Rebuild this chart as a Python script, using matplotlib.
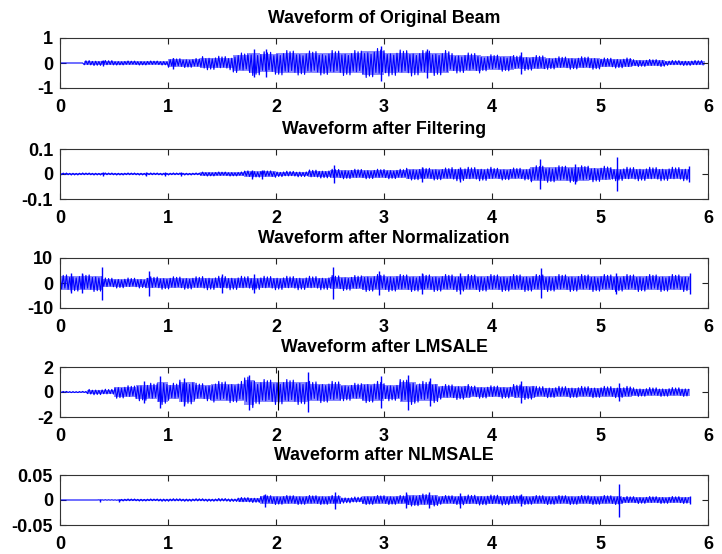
import numpy as np
import matplotlib
matplotlib.use('Agg')
import matplotlib.pyplot as plt

plt.rcParams['font.family'] = ['Liberation Sans', 'DejaVu Sans']
plt.rcParams['axes.unicode_minus'] = False

# Envelope of each waveform: segment edges (s) and peak amplitude per segment
titles = ['Waveform of Original Beam', 'Waveform after Filtering',
          'Waveform after Normalization', 'Waveform after LMSALE',
          'Waveform after NLMSALE']

edges1 = [0, 0.22, 0.5, 1.0, 1.3, 1.6, 1.75, 1.85, 2.0, 2.2, 2.5, 2.8, 3.0, 3.3, 3.6,
          3.9, 4.2, 4.5, 5.0, 5.3, 5.6, 5.97]
amps1 = [0, 0.1, 0.08, 0.18, 0.27, 0.4, 0.5, 0.45, 0.5, 0.48, 0.5, 0.58, 0.52, 0.5,
         0.4, 0.33, 0.3, 0.25, 0.2, 0.14, 0.1]
spike_t1 = [0.4, 1.05, 1.8, 1.91, 2.97, 3.4, 4.27]
spike_a1 = [0.12, 0.22, 0.55, 0.55, 0.7, 0.58, 0.43]

edges2 = [0, 1.3, 1.7, 2.0, 2.3, 2.5, 2.8, 3.2, 3.6, 4.0, 4.35, 4.6, 4.9, 5.1, 5.83]
amps2 = [0.004, 0.008, 0.013, 0.011, 0.016, 0.019, 0.019, 0.024, 0.027, 0.024, 0.033,
         0.033, 0.031, 0.027]
spike_t2 = [0.4, 0.8, 0.97, 1.12, 1.78, 1.87, 2.54, 3.35, 3.7, 4.44, 4.77, 5.16, 5.82]
spike_a2 = [0.008, 0.008, 0.008, 0.008, 0.018, 0.018, 0.037, 0.03, 0.03, 0.06, 0.04,
            0.068, 0.033]

edges3 = [0, 0.4, 0.8, 1.3, 2.0, 2.5, 2.8, 4.5, 5.83]
amps3 = [3.4, 2.0, 2.5, 2.7, 2.7, 3.0, 3.4, 3.4]
spike_t3 = [0.1, 0.2, 0.39, 0.82, 1.5, 1.8, 2.53, 2.95, 3.35, 3.7, 4.45, 5.15, 5.83]
spike_a3 = [4, 4, 6.6, 5, 3.8, 3.8, 6.3, 4.8, 4.2, 4.2, 6.0, 4.2, 4.2]

edges4 = [0, 0.25, 0.5, 0.7, 0.9, 1.0, 1.1, 1.25, 1.4, 1.7, 1.8, 2.0, 2.3, 2.6, 2.8,
          3.0, 3.15, 3.3, 3.5, 3.8, 4.2, 4.4, 5.0, 5.3, 5.83]
amps4 = [0.05, 0.22, 0.5, 0.7, 1.0, 0.7, 1.0, 0.7, 0.85, 1.25, 1.0, 1.0, 0.85, 0.7,
         0.85, 0.7, 1.0, 0.85, 0.6, 0.5, 0.6, 0.45, 0.45, 0.35]
spike_t4 = [0.78, 0.93, 1.15, 1.75, 2.3, 2.97, 3.22, 3.43, 4.27, 5.18]
spike_a4 = [0.9, 1.25, 1.15, 1.4, 1.6, 1.25, 1.4, 1.1, 0.85, 0.75]
black_t4 = 2.02
black_lo4, black_hi4 = -1.4, 1.75

edges5 = [0, 0.35, 0.55, 0.9, 1.45, 1.65, 1.85, 2.0, 2.5, 2.6, 2.8, 3.2, 3.5, 3.7,
          4.2, 5.1, 5.2, 5.83]
amps5 = [0, 0.0005, 0.002, 0.0025, 0.003, 0.005, 0.009, 0.009, 0.009, 0.006, 0.009,
         0.012, 0.009, 0.01, 0.009, 0.009, 0.007]
spike_t5 = [0.37, 0.55, 1.9, 2.55, 3.2, 3.42, 3.7, 4.27, 5.18, 5.83]
spike_a5 = [0.003, 0.003, 0.013, 0.017, 0.016, 0.016, 0.015, 0.012, 0.033, 0.008]

ylims = [1, 0.1, 10, 2, 0.05]
ytick_labels = [['-1', '0', '1'], ['-0.1', '0', '0.1'], ['-10', '0', '10'],
                ['-2', '0', '2'], ['-0.05', '0', '0.05']]

panels = [(edges1, amps1, spike_t1, spike_a1), (edges2, amps2, spike_t2, spike_a2),
          (edges3, amps3, spike_t3, spike_a3), (edges4, amps4, spike_t4, spike_a4),
          (edges5, amps5, spike_t5, spike_a5)]

# relative stroke heights inside a segment, only to give the trace its spiky look
stroke_shape = [1.0, 0.7, 0.9, 0.6, 0.95, 0.75, 0.65]

fig = plt.figure(figsize=(7.22, 5.54), dpi=100)
left, width = 60 / 722, 648 / 722
tops = [38, 149, 258, 367, 475]
h = 50

for i, (edges, amps, sp_t, sp_a) in enumerate(panels):
    ax = fig.add_axes([left, 1 - (tops[i] + h) / 554, width, h / 554])
    amps_arr = np.array(amps)
    # light band of the dense trace
    ax.fill_between(edges, -np.append(amps_arr, amps_arr[-1]) * 0.8,
                    np.append(amps_arr, amps_arr[-1]) * 0.8, step='post',
                    color='#8a8aff', lw=0)
    t = np.arange(edges[0], edges[-1], 0.015)
    idx = np.clip(np.searchsorted(edges, t, side='right') - 1, 0, len(amps) - 1)
    env = amps_arr[idx]
    sign = np.where(np.arange(len(t)) % 2 == 0, 1.0, -1.0)
    y = env * np.resize(stroke_shape, len(t)) * sign
    ax.plot(t, y, color='blue', lw=0.8)
    ax.vlines(sp_t, -np.array(sp_a), np.array(sp_a), color='blue', lw=1.0)
    if i == 3:
        ax.vlines([black_t4], [black_lo4], [black_hi4], color='black', lw=0.8)

    lim = ylims[i]
    ax.set_xlim(0, 6)
    ax.set_ylim(-lim, lim)
    ax.set_xticks(range(7))
    ax.set_yticks([-lim, 0, lim])
    ax.set_yticklabels(ytick_labels[i])
    ax.tick_params(direction='in', length=4, width=0.8, top=True, right=True,
                   labelsize=13, colors='#222222')
    ax.tick_params(axis='x', pad=8)
    ax.tick_params(axis='y', pad=5)
    for lab in ax.get_xticklabels() + ax.get_yticklabels():
        lab.set_fontweight('bold')
        lab.set_color('black')
    for s in ax.spines.values():
        s.set_linewidth(0.8)
        s.set_color('#333333')
    ax.set_title(titles[i], fontsize=12.8, fontweight='bold', pad=11)

fig.savefig('out.png', dpi=100)
